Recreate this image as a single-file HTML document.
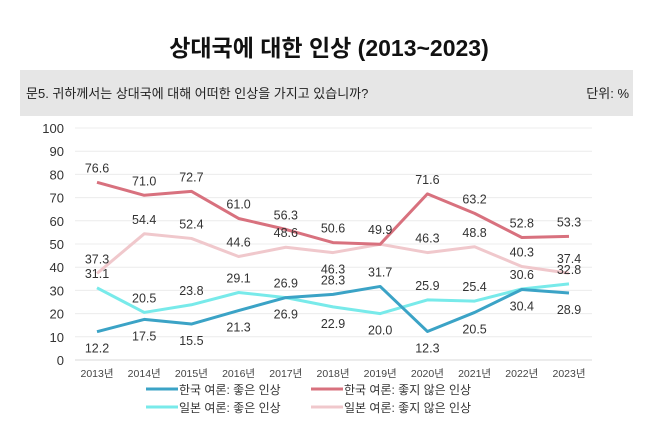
<!DOCTYPE html>
<html><head><meta charset="utf-8">
<style>
body{margin:0;background:#fff;width:658px;height:438px;overflow:hidden;font-family:"Liberation Sans","Noto Sans CJK KR",sans-serif;}
</style></head>
<body>
<svg width="658" height="438" style="position:absolute;left:0;top:0" font-family="Liberation Sans, Noto Sans CJK KR, sans-serif">
<text x="329" y="56" text-anchor="middle" font-size="23" font-weight="bold" fill="#111">상대국에 대한 인상 (2013~2023)</text>
<rect x="20" y="70" width="613" height="46" fill="#e6e6e6"/>
<text x="26" y="98" font-size="13" fill="#222">문5. 귀하께서는 상대국에 대해 어떠한 인상을 가지고 있습니까?</text>
<text x="629" y="98" text-anchor="end" font-size="13" fill="#222">단위: %</text>
<g id="grid"></g><g id="lines"></g><g id="labels"></g><g id="legend"></g>
</svg>
<script>
const years=["2013년","2014년","2015년","2016년","2017년","2018년","2019년","2020년","2021년","2022년","2023년"];
const yTicks=[0,10,20,30,40,50,60,70,80,90,100];
const korGood=[12.2,17.5,15.5,21.3,26.9,28.3,31.7,12.3,20.5,30.4,28.9];
const korBad=[76.6,71.0,72.7,61.0,56.3,50.6,49.9,71.6,63.2,52.8,53.3];
const jpnGood=[31.1,20.5,23.8,29.1,26.9,22.9,20.0,25.9,25.4,30.6,32.8];
const jpnBad=[37.3,54.4,52.4,44.6,48.6,46.3,49.9,46.3,48.8,40.3,37.4];
const korGoodSide=[-1,-1,-1,-1,1,1,1,-1,-1,-1,-1];
const korBadSide=[1,1,1,1,1,1,1,1,1,1,1];
const jpnGoodSide=[1,1,1,1,-1,-1,-1,1,1,1,1];
const jpnBadSide=[1,1,1,1,1,-1,0,1,1,1,1];
const NS="http://www.w3.org/2000/svg";
const X=i=>97+i*47.2, Y=v=>360-v*2.32;
function mk(t,a,p){const e=document.createElementNS(NS,t);for(const k in a)e.setAttribute(k,a[k]);p.appendChild(e);return e;}
const grid=document.getElementById('grid');
yTicks.forEach(v=>{
 const l=mk('line',{x1:75,x2:592,y1:Y(v),y2:Y(v),stroke:v===0?'#d8d8d8':'#ececec','stroke-width':1},grid);
 
 
 const t=mk('text',{x:64,y:Y(v)+5,'text-anchor':'end','font-size':13,fill:'#333'},grid);t.textContent=v;
 
 
});
years.forEach((y,i)=>{
 const t=mk('text',{x:X(i),y:377,'text-anchor':'middle','font-size':10.5,fill:'#444'},grid);t.textContent=y;
 
 
});
const series=[
 {d:jpnBad,s:jpnBadSide,c:'#f0c8cc',n:'japan-bad'},
 {d:korBad,s:korBadSide,c:'#d8717e',n:'korea-bad'},
 {d:jpnGood,s:jpnGoodSide,c:'#78eaea',n:'japan-good'},
 {d:korGood,s:korGoodSide,c:'#3ba3c6',n:'korea-good'}];
const lg=document.getElementById('lines'),lb=document.getElementById('labels');
series.forEach(se=>{
 const p=mk('polyline',{points:se.d.map((v,i)=>X(i)+','+Y(v)).join(' '),fill:'none',stroke:se.c,'stroke-width':3,'stroke-linejoin':'round'},lg);
 
 
 se.d.forEach((v,i)=>{
  if(se.s[i]===0)return;
  const t=mk('text',{x:X(i),y:se.s[i]>0?Y(v)-10:Y(v)+21,'text-anchor':'middle','font-size':12.5,fill:'#333'},lb);
  t.textContent=v.toFixed(1);
  
  
 });
});
const leg=[['한국 여론: 좋은 인상','#3ba3c6',178,393],['한국 여론: 좋지 않은 인상','#d8717e',343,393],['일본 여론: 좋은 인상','#78eaea',178,411],['일본 여론: 좋지 않은 인상','#f0c8cc',343,411]];
const lgd=document.getElementById('legend');
leg.forEach((e,i)=>{
 const g=mk('g',{},lgd);
 
 
 mk('line',{x1:e[2]-32,x2:e[2],y1:e[3]-4,y2:e[3]-4,stroke:e[1],'stroke-width':3},g);
 const t=mk('text',{x:e[2]+1,y:e[3]+1,'font-size':12,fill:'#333'},g);t.textContent=e[0];
});
</script>
</body></html>
